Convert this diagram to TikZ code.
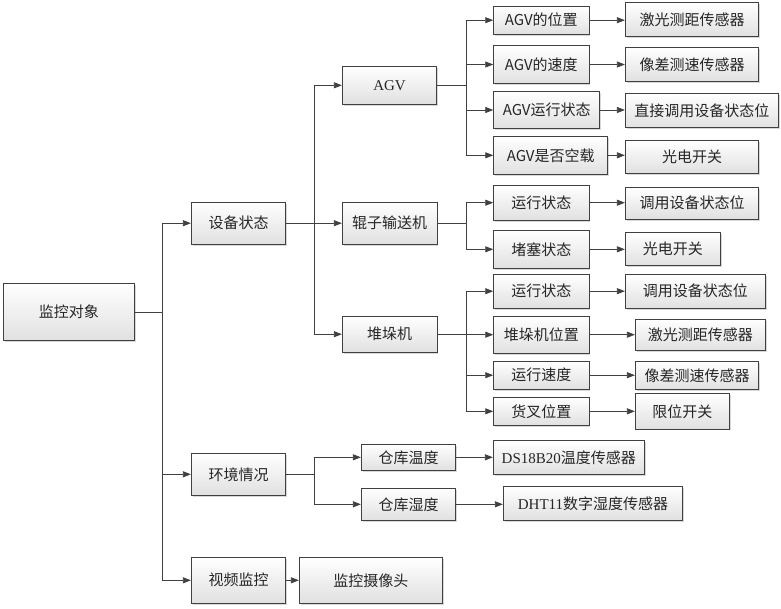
\documentclass[tikz,border=0pt]{standalone}
\usepackage{fontspec}
\setmainfont{Liberation Serif}
\newfontfamily\cjk{Noto Sans CJK SC}
\usetikzlibrary{arrows.meta, shadows}

\begin{document}
\begin{tikzpicture} [x=1pt, y=-1pt, font=\cjk\fontsize{15}{18}\selectfont,
    box/.style={draw=black!75, line width=0.8pt, top color=white, bottom color=black!12,
        drop shadow={shadow xshift=1.5pt, shadow yshift=-1.5pt, fill=black!30, opacity=0.5},
        inner sep=1pt, text=black!85},
    wh/.style 2 args={minimum width=#1, minimum height=#2},
    link/.style={-{Triangle[length=8pt,width=6pt]}, color=black!75, line width=0.8pt},
    elbow/.style={to path={-- ++(#1,0) |- (\tikztotarget)}}]
    \useasboundingbox (0,0) rectangle (781,608);

    \node (jkdx) [box, wh={131.7}{57.4}] at (68.9,312) {监控对象};
    \node (sbzt) [box, wh={94.4}{42.3}] at (238.5,223.2) {设备状态};
    \node (hjqk) [box, wh={94.4}{42}] at (238.5,474.3) {环境情况};
    \node (spjk) [box, wh={94.4}{46}] at (238.5,580.3) {视频监控};

    \node (agv) [box, wh={94.4}{38}] at (389.5,85.3) {\rmfamily AGV};
    \node (gzssj) [box, wh={94.7}{42.3}] at (389.6,223.2) {辊子输送机};
    \node (ddj) [box, wh={94.7}{36.3}] at (389.6,334.2) {堆垛机};
    \node (ckwd) [box, wh={94.4}{26}] at (408.5,457.3) {仓库温度};
    \node (cksd) [box, wh={94.4}{32}] at (408.5,504.3) {仓库湿度};
    \node (jksxt) [box, wh={143}{46}] at (370.8,580.3) {监控摄像头};

    \node (agv1) [box, wh={95.3}{28.3}] at (541.3,20.2) {AGV的位置};
    \node (agv2) [box, wh={95.3}{37.6}] at (541.3,64.5) {AGV的速度};
    \node (agv3) [box, wh={106}{37.4}] at (546.7,110) {AGV运行状态};
    \node (agv4) [box, wh={114}{38}] at (550.7,155.3) {AGV是否空载};
    \node (gz1) [box, wh={95.3}{34.7}] at (541.3,202.7) {运行状态};
    \node (gz2) [box, wh={95.3}{38}] at (541.3,249.3) {堵塞状态};
    \node (ddj1) [box, wh={95.3}{33.7}] at (541.3,291.2) {运行状态};
    \node (ddj2) [box, wh={95.3}{37.3}] at (541.3,334.7) {堆垛机位置};
    \node (ddj3) [box, wh={95.3}{28.3}] at (541.3,375.2) {运行速度};
    \node (ddj4) [box, wh={95.3}{28}] at (541.3,411.3) {货叉位置};

    \node (agv1s) [box, wh={133.4}{34}] at (692,19.3) {激光测距传感器};
    \node (agv2s) [box, wh={133.4}{34.4}] at (692,64.5) {像差测速传感器};
    \node (agv3s) [box, wh={153}{34}] at (701.8,110.7) {直接调用设备状态位};
    \node (agv4s) [box, wh={133.4}{32.7}] at (692,156.7) {光电开关};
    \node (gz1s) [box, wh={133.4}{31.7}] at (692,203.2) {调用设备状态位};
    \node (gz2s) [box, wh={95}{33.4}] at (672.8,249) {光电开关};
    \node (ddj1s) [box, wh={140}{33.7}] at (695.3,291.2) {调用设备状态位};
    \node (ddj2s) [box, wh={130}{31}] at (700.3,334.8) {激光测距传感器};
    \node (ddj3s) [box, wh={123.4}{28}] at (697,375.3) {像差测速传感器};
    \node (ddj4s) [box, wh={94}{35.3}] at (682.3,411.3) {限位开关};
    \node (ckwds) [box, wh={151}{34}] at (568.8,457.3) {{\rmfamily DS18B20}温度传感器};
    \node (cksds) [box, wh={179.4}{34}] at (593,503.3) {{\rmfamily DHT11}数字湿度传感器};

    \path [link]
    (jkdx.east) edge [elbow=27.5] (sbzt.west)
    (jkdx.east) edge [elbow=27.5] (hjqk.west)
    (jkdx.east) edge [elbow=27.5] (spjk.west)
    (sbzt.east) edge [elbow=28.5] (agv.west)
    (sbzt.east) edge [elbow=28.5] (gzssj.west)
    (sbzt.east) edge [elbow=28.5] (ddj.west)
    (hjqk.east) edge [elbow=28.5] (ckwd.west)
    (hjqk.east) edge [elbow=28.5] (cksd.west)
    (spjk.east) edge (jksxt.west)
    ;
    \path [link]
    (agv.east) edge [elbow=29] (agv1.west)
    (agv.east) edge [elbow=29] (agv2.west)
    (agv.east) edge [elbow=29] (agv3.west)
    (agv.east) edge [elbow=29] (agv4.west)
    (gzssj.east) edge [elbow=29] (gz1.west)
    (gzssj.east) edge [elbow=29] (gz2.west)
    (ddj.east) edge [elbow=29] (ddj1.west)
    (ddj.east) edge [elbow=29] (ddj2.west)
    (ddj.east) edge [elbow=29] (ddj3.west)
    (ddj.east) edge [elbow=29] (ddj4.west)
    ;
    \path [link]
    (agv1.east) edge (agv1.east -| agv1s.west)
    (agv2.east) edge (agv2.east -| agv2s.west)
    (agv3.east) edge (agv3.east -| agv3s.west)
    (agv4.east) edge (agv4.east -| agv4s.west)
    (gz1.east) edge (gz1.east -| gz1s.west)
    (gz2.east) edge (gz2.east -| gz2s.west)
    (ddj1.east) edge (ddj1.east -| ddj1s.west)
    (ddj2.east) edge (ddj2.east -| ddj2s.west)
    (ddj3.east) edge (ddj3.east -| ddj3s.west)
    (ddj4.east) edge (ddj4.east -| ddj4s.west)
    (ckwd.east) edge (ckwd.east -| ckwds.west)
    (cksd.east) edge (cksd.east -| cksds.west)
    ;
\end{tikzpicture}
\end{document}
